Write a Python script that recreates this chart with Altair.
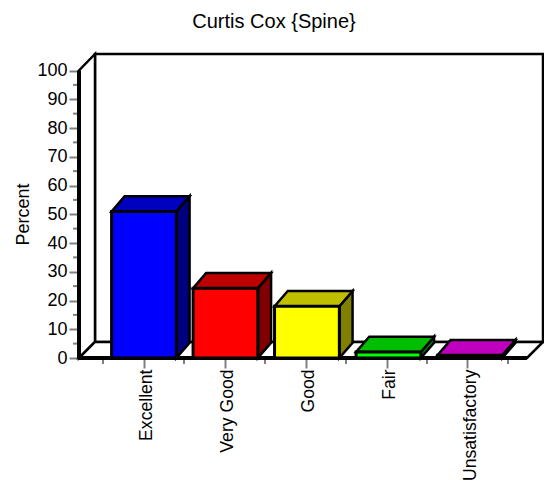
import altair as alt
import pandas as pd

categories = ["Excellent", "Very Good", "Good", "Fair", "Unsatisfactory"]
values = [51, 24.3, 18, 2.1, 1]
front = ["#0000ff", "#ff0000", "#ffff00", "#00ff00", "#ff00ff"]
top = ["#0000bf", "#bf0000", "#bfbf00", "#00bf00", "#bf00bf"]
side = ["#00007f", "#7f0000", "#7f7f00", "#007f00", "#7f007f"]
y_major = list(range(0, 101, 10))
y_minor = list(range(5, 100, 10))

X0, X1 = -0.2963, 5.4321
Y1 = 105.74
WX, WY = 0.1975, 5.57   # wall depth
DX, DY = 0.163, 5.3     # bar depth
HW = 0.4                # half bar width
BAR_START, BAR_PITCH = 0.106, 1.006
FLOOR_R = X1 - WX

xs = alt.Scale(domain=[X0, X1], nice=False, zero=False)
ys = alt.Scale(domain=[0, Y1], nice=False, zero=False)

x_axis = alt.Axis(
    values=[i + 0.5 for i in range(len(categories))],
    labelExpr="['Excellent','Very Good','Good','Fair','Unsatisfactory'][floor(datum.value)]",
    labelAngle=270, labelAlign="right", labelBaseline="middle",
    labelFont="Liberation Sans", labelFontSize=17.6, labelColor="#000000",
    labelPadding=1, labelOffset=3, labelOverlap=False, labelBound=False, labelFlush=False,
    tickColor="#808080", tickWidth=2, tickSize=10, domain=False, grid=False, title=None,
)
y_axis = alt.Axis(
    values=y_major, tickCount=11, labelFont="Liberation Sans", labelFontSize=18, labelColor="#000000",
    labelPadding=2, labelOverlap=False, labelBound=False, labelFlush=False,
    tickColor="#808080", tickWidth=2, tickSize=10, domain=False, grid=False,
    title="Percent", titleFont="Liberation Sans", titleFontSize=18, titleFontWeight="normal",
    titleColor="#000000", titleX=-47, titleY=160,
)
X = lambda f: alt.X(f, type="quantitative", scale=xs, axis=x_axis)
Y = lambda f: alt.Y(f, type="quantitative", scale=ys, axis=y_axis)

# walls and floor
back = alt.Chart(pd.DataFrame([{"x": X0 + WX, "x2": X1, "y": WY, "y2": Y1}])).mark_rect(
    fill="white", stroke="black", strokeWidth=2.5
).encode(x=X("x"), x2="x2:Q", y=Y("y"), y2="y2:Q")

left_wall = alt.Chart(pd.DataFrame([
    {"x": X0, "y": 0, "y2": 100}, {"x": X0 + WX, "y": WY, "y2": Y1}
])).mark_area(fill="white", stroke="black", strokeWidth=2.5).encode(x=X("x"), y=Y("y"), y2="y2:Q")

floor = alt.Chart(pd.DataFrame([
    {"y": 0, "x": X0, "x2": FLOOR_R}, {"y": WY, "x": X0 + WX, "x2": X1}
])).mark_area(orient="horizontal", fill="white", stroke="black", strokeWidth=2.5).encode(
    y=Y("y"), x=X("x"), x2="x2:Q")

axis_v = alt.Chart(pd.DataFrame([{"x": X0, "y": 0, "y2": 100}])).mark_rule(color="black", strokeWidth=4).encode(
    x=X("x"), y=Y("y"), y2="y2:Q")
axis_h = alt.Chart(pd.DataFrame([{"y": 0, "x": X0, "x2": FLOOR_R}])).mark_rule(color="black", strokeWidth=4).encode(
    y=Y("y"), x=X("x"), x2="x2:Q")

# minor ticks
minor_y = alt.Chart(pd.DataFrame({"y": y_minor, "x": X0 - 6 / 81, "x2": X0})).mark_rule(
    color="#808080", strokeWidth=2).encode(y=Y("y"), x=X("x"), x2="x2:Q")
minor_x = alt.Chart(pd.DataFrame({"x": list(range(len(categories) + 1)), "y": -2.1, "y2": 0})).mark_rule(
    color="#808080", strokeWidth=2).encode(x=X("x"), y=Y("y"), y2="y2:Q")

# bars
rows_side, rows_top, rows_front = [], [], []
for i, (c, v) in enumerate(zip(categories, values)):
    l = BAR_START + i * BAR_PITCH
    r = l + 2 * HW
    rows_front.append({"c": c, "x": l, "x2": r, "y": 0, "y2": v, "col": front[i]})
    rows_side += [{"c": c, "x": r, "y": 0, "y2": v, "col": side[i]},
                  {"c": c, "x": r + DX, "y": DY, "y2": v + DY, "col": side[i]}]
    rows_top += [{"c": c, "y": v, "x": l, "x2": r, "col": top[i]},
                 {"c": c, "y": v + DY, "x": l + DX, "x2": r + DX, "col": top[i]}]

side_faces = alt.Chart(pd.DataFrame(rows_side)).mark_area(stroke="black", strokeWidth=2.5).encode(
    x=X("x"), y=Y("y"), y2="y2:Q", detail="c:N", fill=alt.Fill("col:N", scale=None))
top_faces = alt.Chart(pd.DataFrame(rows_top)).mark_area(orient="horizontal", stroke="black", strokeWidth=2.5).encode(
    y=Y("y"), x=X("x"), x2="x2:Q", detail="c:N", fill=alt.Fill("col:N", scale=None))
front_faces = alt.Chart(pd.DataFrame(rows_front)).mark_rect(stroke="black", strokeWidth=3).encode(
    x=X("x"), x2="x2:Q", y=Y("y"), y2="y2:Q", fill=alt.Fill("col:N", scale=None))

chart = alt.layer(
    back, left_wall, floor, minor_y, minor_x, axis_v, axis_h, side_faces, top_faces, front_faces
).resolve_scale(x="shared", y="shared").properties(
    width=464, height=304,
    title=alt.TitleParams("Curtis Cox {Spine}", font="Liberation Sans", fontSize=20, fontWeight="normal",
                          color="#000000", anchor="middle", dx=-37, offset=17),
    autosize="none",
    padding={"left": 71, "top": 46, "right": 1, "bottom": 124},
    background="white",
).configure_view(stroke=None)

chart.save("out.html", embed_options={"renderer": "svg", "actions": False})
